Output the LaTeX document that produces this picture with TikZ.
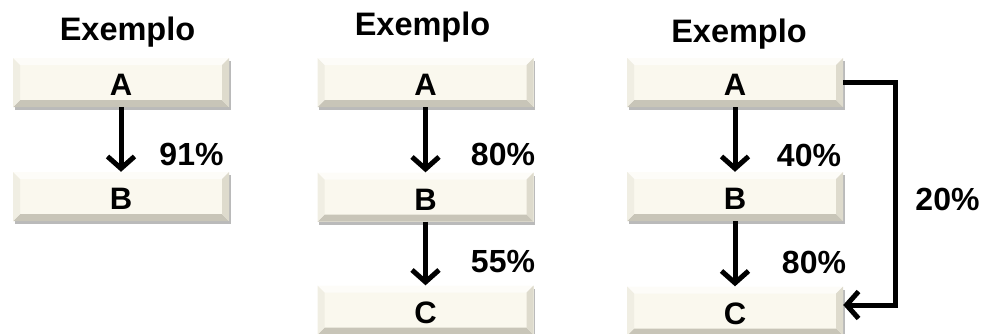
\documentclass[tikz,border=0pt]{standalone}
\usepackage{fontspec}
\setmainfont{Liberation Sans}
\usetikzlibrary{arrows.meta,shadows}
\definecolor{boxfill}{RGB}{250,248,238}
\definecolor{bevtop}{RGB}{253,252,248}
\definecolor{bevbot}{RGB}{200,197,184}
\definecolor{bevright}{RGB}{222,219,205}
\definecolor{bevleft}{RGB}{240,238,227}
\tikzset{
  stepbox/.style={rectangle, minimum width=216pt, minimum height=49pt, inner sep=0pt,
    text height=26.5pt, text depth=0pt,
    fill=boxfill, font=\fontsize{31}{31}\selectfont\bfseries,
    drop shadow={shadow xshift=1.5pt, shadow yshift=-3pt, opacity=0.45, fill=black!60},
    path picture={
      \fill[bevtop] (path picture bounding box.north west) -- (path picture bounding box.north east)
        -- ([shift={(-7pt,-7pt)}]path picture bounding box.north east) -- ([shift={(7pt,-7pt)}]path picture bounding box.north west) -- cycle;
      \fill[bevbot] (path picture bounding box.south west) -- (path picture bounding box.south east)
        -- ([shift={(-7pt,7pt)}]path picture bounding box.south east) -- ([shift={(7pt,7pt)}]path picture bounding box.south west) -- cycle;
      \fill[bevright] (path picture bounding box.north east) -- (path picture bounding box.south east)
        -- ([shift={(-7pt,7pt)}]path picture bounding box.south east) -- ([shift={(-7pt,-7pt)}]path picture bounding box.north east) -- cycle;
      \fill[bevleft] (path picture bounding box.north west) -- (path picture bounding box.south west)
        -- ([shift={(7pt,7pt)}]path picture bounding box.south west) -- ([shift={(7pt,-7pt)}]path picture bounding box.north west) -- cycle;
    }},
  title/.style={font=\fontsize{32.5}{32.5}\selectfont\bfseries, anchor=base, inner sep=0pt},
  pct/.style={font=\fontsize{32}{32}\selectfont\bfseries, anchor=base, inner sep=0pt},
  flow/.style={line width=5pt, -{Straight Barb[length=12pt,width=27pt,line width=5pt]}}
}
\begin{document}
\begin{tikzpicture}[x=1pt,y=-1pt]
\useasboundingbox (0,0) rectangle (982,333);
% column 1
\node[title] (t1) at (127.5,40) {Exemplo};
\node[stepbox] (a1) at (121,82.5) {A};
\node[stepbox] (b1) at (121,196.5) {B};
\draw[flow] (a1) -- (b1);
\node[pct] (p1) at (191.5,165) {91\%};
% column 2
\node[title] (t2) at (422.5,35) {Exemplo};
\node[stepbox] (a2) at (425.5,82.5) {A};
\node[stepbox] (b2) at (425.5,197) {B};
\node[stepbox] (c2) at (425.5,310) {C};
\draw[flow] (a2) -- (b2);
\draw[flow] (b2) -- (c2);
\node[pct] (p2) at (503,165.5) {80\%};
\node[pct] (p3) at (503,272) {55\%};
% column 3
\node[title] (t3) at (739,42.3) {Exemplo};
\node[stepbox] (a3) at (735,82.5) {A};
\node[stepbox] (b3) at (735,196.5) {B};
\node[stepbox] (c3) at (735,311) {C};
\draw[flow] (a3) -- (b3);
\draw[flow] (b3) -- (c3);
\draw[flow] (a3.east) -- ++(52.5,0) |- ([yshift=6pt]c3.east);
\node[pct] (p4) at (809,166.5) {40\%};
\node[pct] (p5) at (814,273) {80\%};
\node[pct] (p6) at (947.5,210) {20\%};
\end{tikzpicture}
\end{document}
